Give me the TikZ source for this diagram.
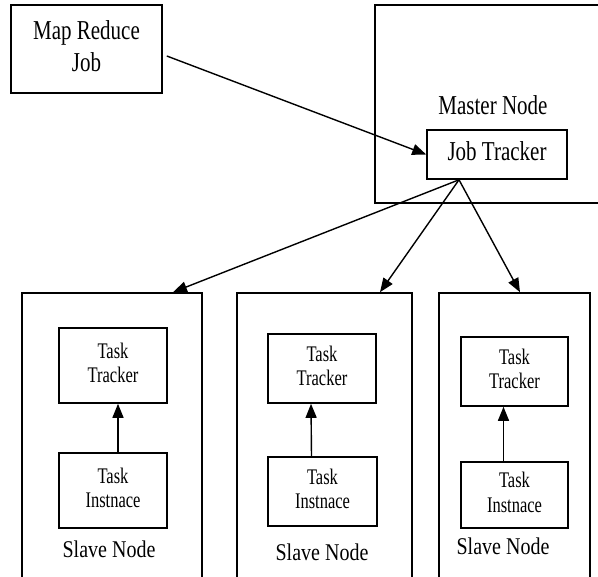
\documentclass[tikz,border=0pt]{standalone}
\usepackage{fontspec}
\usepackage{graphicx}
\setmainfont{Liberation Serif}
\usetikzlibrary{arrows.meta}

% text stretched vertically, one or more centred lines
\newcommand\tallText[2]{\scalebox{1}[#1]{\begin{tabular}{@{}c@{}}#2\end{tabular}}}

\tikzset{
  box/.style={draw=black, line width=1.6pt, rectangle, inner sep=0pt, fill=none},
  bigtext/.style={font=\fontsize{21}{24.5}\selectfont},
  smalltext/.style={font=\fontsize{16.5}{18}\selectfont},
  labeltext/.style={font=\fontsize{20}{23}\selectfont, inner sep=0pt},
  link/.style={draw=black, line width=1.4pt, -{Triangle[length=14pt,width=11pt]}},
}

\begin{document}
\begin{tikzpicture}[x=1pt, y=-1pt]
  \useasboundingbox (0,0) rectangle (598,577);
  \clip (0,0) rectangle (598,577);

  % job submitted by the client
  \node[box, bigtext, minimum width=151pt, minimum height=88pt] (mr) at (86.5,49)
    {\tallText{1.3}{Map Reduce\\Job}};

  % master node with its job tracker
  \node[box, minimum width=245pt, minimum height=198pt] (master) at (497.5,104) {};
  \node[labeltext, bigtext] (mlabel) at (493,108) {\tallText{1.3}{Master Node}};
  \node[box, bigtext, minimum width=140pt, minimum height=49pt] (jt) at (497,154.5)
    {\tallText{1.3}{Job Tracker}};

  % slave nodes
  \node[box, minimum width=180pt, minimum height=297pt] (s1) at (112,441.5) {};
  \node[box, minimum width=175pt, minimum height=297pt] (s2) at (324.5,441.5) {};
  \node[box, minimum width=151pt, minimum height=297pt] (s3) at (514.5,441.5) {};

  \node[box, smalltext, minimum width=108pt, minimum height=75pt] (tt1) at (113,365.5)
    {\tallText{1.35}{Task\\Tracker}};
  \node[box, smalltext, minimum width=108pt, minimum height=75pt] (ti1) at (113,490.5)
    {\tallText{1.35}{Task\\Instnace}};
  \node[box, smalltext, minimum width=108pt, minimum height=69pt] (tt2) at (322,368.5)
    {\tallText{1.35}{Task\\Tracker}};
  \node[box, smalltext, minimum width=109pt, minimum height=69pt] (ti2) at (322.5,491.5)
    {\tallText{1.35}{Task\\Instnace}};
  \node[box, smalltext, minimum width=107pt, minimum height=69pt] (tt3) at (514.5,371.5)
    {\tallText{1.35}{Task\\Tracker}};
  \node[box, smalltext, minimum width=107pt, minimum height=66pt] (ti3) at (514.5,495)
    {\tallText{1.35}{Task\\Instnace}};

  \node[labeltext] (sl1) at (109,552) {\tallText{1.2}{Slave Node}};
  \node[labeltext] (sl2) at (322,555) {\tallText{1.2}{Slave Node}};
  \node[labeltext] (sl3) at (503,549) {\tallText{1.2}{Slave Node}};

  % connectors
  \draw[link] ([shift={(4pt,-7pt)}]mr.east) -- (jt.west);
  \draw[link] ([xshift=-38pt]jt.south) -- ([xshift=61pt]s1.north);
  \draw[link] ([xshift=-38pt]jt.south) -- ([xshift=55.5pt]s2.north);
  \draw[link] ([xshift=-38pt]jt.south) -- ([xshift=5.5pt]s3.north);

  \draw[link] ([xshift=5pt]ti1.north) -- ([xshift=5pt]tt1.south);
  \draw[link] ([xshift=-11pt]ti2.north) -- ([xshift=-11pt]tt2.south);
  \draw[link] ([xshift=-11pt]ti3.north) -- ([xshift=-11pt]tt3.south);
\end{tikzpicture}
\end{document}
